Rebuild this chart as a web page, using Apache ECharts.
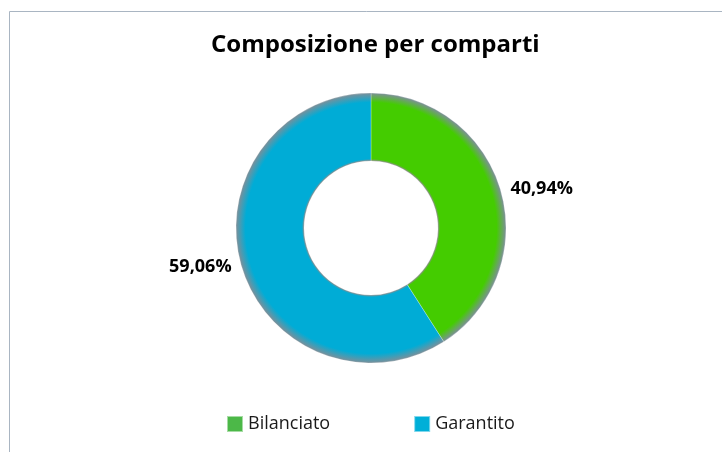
<!DOCTYPE html>
<html>
<head>
<meta charset="utf-8">
<title>Composizione per comparti</title>
<script src="https://cdn.jsdelivr.net/npm/echarts@6/dist/echarts.min.js"></script>
<style>
  html, body { margin: 0; padding: 0; background: #fff; }
  #chart { width: 722px; height: 452px; }
</style>
</head>
<body>
<div id="chart"></div>
<script>
// dati
const categories = ['Bilanciato', 'Garantito']
const values = [40.94, 59.06]
const sliceColors = ['#44cc00', '#00acd6']
const legendColors = ['#4cb848', '#00afd8']

const cx = 371, cy = 228, rOut = 135, rIn = 67

// sfumatura radiale: bordo interno ed esterno più scuri
function shade(color) {
  const k = rIn / rOut
  return new echarts.graphic.RadialGradient(cx, cy, rOut, [
    { offset: k, color: '#8c8c8c' },
    { offset: k + 0.015, color: color },
    { offset: 0.93, color: color },
    { offset: 1, color: '#7d8f99' }
  ], true)
}

const chart = echarts.init(document.getElementById('chart'))

chart.setOption({
  animation: false,
  title: {
    text: 'Composizione per comparti',
    left: 206,
    top: 28,
    textStyle: { fontFamily: 'Open Sans', fontWeight: 'bold', fontSize: 24, color: '#000' }
  },
  graphic: [{
    type: 'rect',
    shape: { x: 9.5, y: 11.5, width: 800, height: 500 },
    style: { fill: 'none', stroke: '#a9b5c2', lineWidth: 1 },
    silent: true
  }],
  legend: {
    bottom: 14,
    left: 221,
    itemWidth: 16,
    itemHeight: 16,
    itemGap: 83,
    icon: 'rect',
    textStyle: { fontFamily: 'Open Sans', fontSize: 18, color: '#1a1a1a' },
    data: categories.map((name, i) => ({ name, itemStyle: { color: legendColors[i] } }))
  },
  series: [{
    type: 'pie',
    center: [cx, cy],
    radius: [rIn, rOut],
    startAngle: 90,
    clockwise: true,
    label: {
      show: true,
      position: 'outside',
      formatter: p => p.value.toFixed(2).replace('.', ',') + '%',
      fontFamily: 'Open Sans',
      fontWeight: 'bold',
      fontSize: 18,
      color: '#000'
    },
    labelLine: { show: false, length: 4, length2: 1 },
    itemStyle: { borderColor: 'rgba(255,255,255,0.5)', borderWidth: 0.5 },
    emphasis: { disabled: true },
    data: categories.map((name, i) => ({
      name,
      value: values[i],
      itemStyle: { color: shade(sliceColors[i]) }
    }))
  }]
})
</script>
</body>
</html>
